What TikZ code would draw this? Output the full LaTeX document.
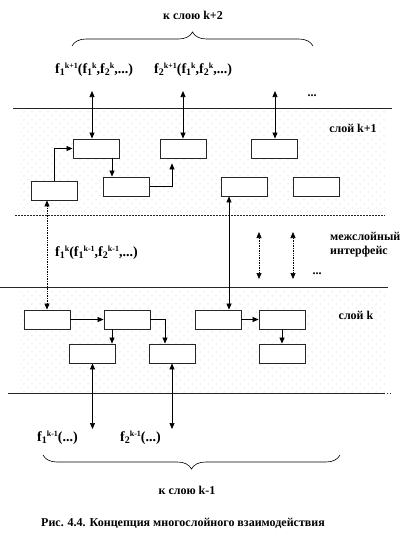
\documentclass[tikz,border=0pt]{standalone}
\usepackage{fontspec}
\setmainfont{Liberation Serif}
\usetikzlibrary{arrows.meta,patterns,decorations.pathreplacing}
\pgfdeclarepatternformonly{mydots}{\pgfqpoint{-1pt}{-1pt}}{\pgfqpoint{9pt}{9pt}}{\pgfqpoint{8pt}{8pt}}{%
  \pgfpathcircle{\pgfqpoint{0pt}{0pt}}{0.5pt}%
  \pgfpathcircle{\pgfqpoint{4pt}{4pt}}{0.5pt}%
  \pgfusepath{fill}}
\newcommand\fk[2]{f\raisebox{-2pt}{\fontsize{10}{10}\selectfont #1}\raisebox{5pt}{\fontsize{8}{8}\selectfont #2}}
\begin{document}
\begin{tikzpicture}[x=1pt,y=-1pt,
  font=\bfseries\fontsize{12}{14}\selectfont,
  box/.style={draw=black!85, line width=0.9pt, minimum width=46pt, minimum height=19pt, inner sep=0pt, fill=white},
  arr/.style={-{Triangle[length=6pt,width=5pt]}, line width=0.7pt},
  darr/.style={{Triangle[length=6pt,width=5pt]}-{Triangle[length=6pt,width=5pt]}, line width=0.7pt},
  layerline/.style={line width=0.8pt, black!85},
  lbl/.style={inner sep=0pt},
  flbl/.style={inner sep=0pt, anchor=west, font=\bfseries\fontsize{14}{16}\selectfont}]
\useasboundingbox (0,0) rectangle (417,544);
% layer backgrounds
\fill[pattern=mydots, pattern color=gray!60] (20,110) rectangle (386,214);
\fill[pattern=mydots, pattern color=gray!60] (20,289) rectangle (386,392);
% layer borders
\draw[layerline] (13,108) -- (392,108);
\draw[layerline, dash pattern=on 2pt off 1pt] (15,215) -- (385,215);
\draw[layerline] (0,287.5) -- (388,287.5);
\draw[layerline] (8,393) -- (384,393);
\draw[layerline, dotted] (384,393) -- (392,393);

% top labels
\node[lbl] (top) at (193,15) {к слою k+2};
\draw[decorate, decoration={brace, amplitude=14pt}, line width=0.6pt] (72,46) -- (313,46);
\node[flbl] (fa) at (55,70) {\fk{1}{k+1}(\fk{1}{k},\fk{2}{k},...)};
\node[flbl] (fb) at (154,70) {\fk{2}{k+1}(\fk{1}{k},\fk{2}{k},...)};
\node[lbl] (dots1) at (312,96) {...};
\node[lbl] (lk1) at (353,128) {слой k+1};

% layer k+1 boxes
\node[box] (A1) at (96,148.5) {};
\node[box] (A2) at (183.5,148.5) {};
\node[box] (A3) at (274.5,148.5) {};
\node[box] (B1) at (54.5,190.5) {};
\node[box] (B2) at (126.5,186.5) {};
\node[box] (B3) at (244.5,186.5) {};
\node[box] (B4) at (316.5,186.5) {};

\coordinate (t1) at (92,91);
\coordinate (t2) at (183,91);
\coordinate (t3) at (275,91);
\draw[darr] (t1) -- (t1 |- A1.north);
\draw[darr] (t2) -- (t2 |- A2.north);
\draw[darr] (t3) -- (t3 |- A3.north);
\draw[arr] (B1.north) |- (A1.west);
\draw[arr] ([xshift=16pt]A1.south) -- ([xshift=16pt]A1.south |- B2.north);
\draw[arr] (B2.east) -| ([xshift=-11.5pt,yshift=-5pt]A2.south);

% interface
\node[flbl] (fi) at (55,253) {\fk{1}{k}(\fk{1}{k-1},\fk{2}{k-1},...)};
\coordinate (i1a) at (259,232);
\coordinate (i1b) at (259,279);
\coordinate (i2a) at (293,232);
\coordinate (i2b) at (293,279);
\draw[darr, densely dotted] (i1a) -- (i1b);
\draw[darr, densely dotted] (i2a) -- (i2b);
\node[lbl] (dots2) at (317,274) {...};
\node[lbl, anchor=west] (mi1) at (330,236) {межслойный};
\node[lbl, anchor=west] (mi2) at (330,252) {интерфейс};

% layer k boxes
\node[box] (C1) at (47,319.5) {};
\node[box] (C2) at (127,319.5) {};
\node[box] (C3) at (218,319.5) {};
\node[box] (C4) at (282,319.5) {};
\node[box] (D1) at (92.5,353.5) {};
\node[box] (D2) at (172,353.5) {};
\node[box] (D3) at (282,353.5) {};
\node[lbl] (lk) at (356,315) {слой k};

\draw[darr, densely dotted] (C1.north) -- (C1.north |- B1.south);
\draw[darr] ([xshift=11pt]C3.north) -- ([xshift=11pt]C3.north |- B3.south);
\draw[arr] (C1.east) -- (C2.west);
\draw[arr] ([xshift=-15pt]C2.south) -- ([xshift=-15pt]C2.south |- D1.north);
\draw[arr] (C2.east) -| ([xshift=-7pt]D2.north);
\draw[arr] (C3.east) -- (C4.west);
\draw[arr] (C4.south) -- (D3.north);

% bottom
\coordinate (b1) at (92.5,429);
\coordinate (b2) at (172,429);
\draw[darr] (D1.south) -- (b1);
\draw[darr] (D2.south) -- (b2);
\node[flbl] (fc) at (37,438) {\fk{1}{k-1}(...)};
\node[flbl] (fd) at (120,438) {\fk{2}{k-1}(...)};
\draw[decorate, decoration={brace, amplitude=14pt}, line width=0.6pt] (340,455) -- (43,455);
\node[lbl] (bot) at (187,490) {к слою k-1};
\node[lbl] (cap) at (183,523) {Рис. 4.4. Концепция многослойного взаимодействия};
\end{tikzpicture}
\end{document}
